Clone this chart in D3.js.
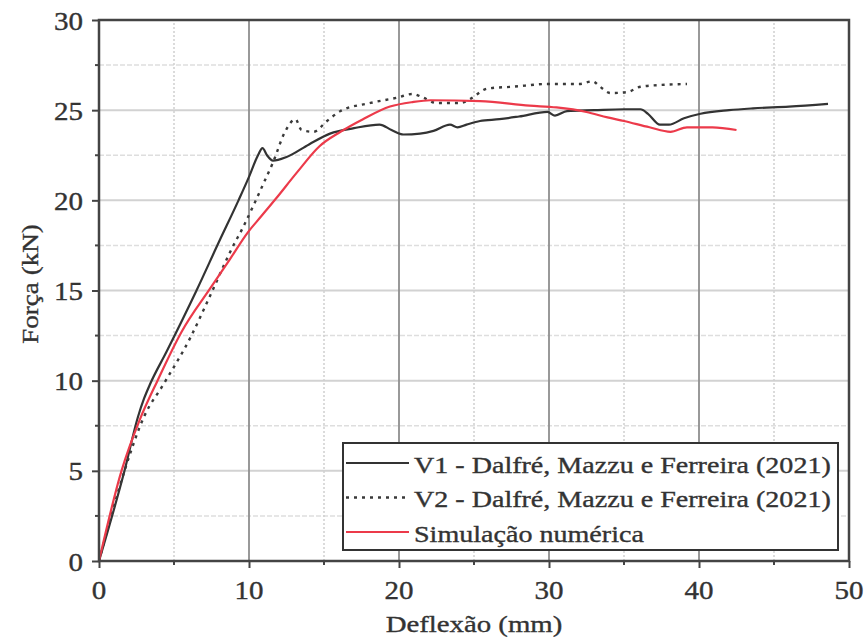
<!DOCTYPE html>
<html>
<head>
<meta charset="utf-8">
<script src="https://cdn.jsdelivr.net/npm/d3@7"></script>
<style>
  body { margin: 0; background: #fff; }
  #wrap { position: relative; width: 865px; height: 641px; }
  svg { display: block; position: absolute; left: 0; top: 0; }
  #labels { position: absolute; left: 0; top: 0; width: 865px; height: 641px; pointer-events: none; }
  .lbl { position: absolute; white-space: nowrap; line-height: 1; color: #333;
         -webkit-text-stroke: 0.35px #333;
         font-family: 'Liberation Serif', 'Times New Roman', serif; transform-origin: 0 0; }
</style>
</head>
<body>
<div id="wrap">
  <svg id="chart"></svg>
  <div id="labels"></div>
</div>
<script>
// deflexão (mm), força (kN)
const v1X = [0, 1.7, 2.6, 3.0, 3.4, 4.5, 6.5, 8, 9.3, 10, 10.6, 10.9, 11.2, 11.6, 12.5, 14, 15.4, 17, 18.7, 19.5, 20.3, 21.4, 22.3, 23.4, 23.9, 24.5, 25.4, 26.7, 28, 29.9, 30.4, 31.2, 33, 35, 36.1, 36.6, 37.4, 38, 39, 40.1, 42, 43.6, 46, 48.6]
const v1Y = [0, 5, 8, 9.0, 9.8, 11.6, 15, 17.7, 20, 21.3, 22.5, 22.9, 22.5, 22.2, 22.4, 23.1, 23.7, 24, 24.2, 23.9, 23.65, 23.7, 23.85, 24.2, 24.05, 24.2, 24.4, 24.5, 24.65, 24.9, 24.7, 24.95, 25.0, 25.05, 25.05, 24.8, 24.2, 24.2, 24.55, 24.8, 25.0, 25.1, 25.2, 25.35]

const v2X = [0, 1.7, 3, 4.3, 6.1, 7.4, 8.9, 9.6, 10.4, 11.0, 11.6, 12.4, 13.1, 13.5, 14.3, 15.2, 16.1, 18.1, 19.9, 20.9, 21.6, 22.5, 24.1, 24.7, 25.9, 27.6, 29.9, 32, 32.9, 33.4, 34.1, 35.2, 36.1, 37.5, 39.2]
const v2Y = [0, 5, 8, 9.8, 12.4, 14.7, 17.4, 18.5, 19.9, 21.0, 22.1, 23.8, 24.5, 23.9, 23.8, 24.4, 24.95, 25.4, 25.7, 25.9, 25.7, 25.4, 25.4, 25.6, 26.2, 26.3, 26.45, 26.45, 26.6, 26.3, 25.95, 26.0, 26.3, 26.4, 26.45]

const simX = [0, 1.5, 2.7, 3.9, 5.5, 7.4, 8.7, 9.9, 10.8, 11.8, 13.2, 14.7, 16.1, 17.6, 19.4, 20.9, 22.1, 25.4, 28.7, 30.5, 32.5, 33.9, 35, 36.7, 38.1, 39.2, 40.9, 42.5]
const simY = [0, 5, 7.8, 10, 12.7, 15.1, 16.7, 18.2, 19.1, 20.1, 21.55, 23, 23.8, 24.5, 25.2, 25.45, 25.55, 25.5, 25.25, 25.15, 24.9, 24.6, 24.4, 24.05, 23.8, 24.05, 24.05, 23.9]

const xTicks = [0, 10, 20, 30, 40, 50]
const yTicks = [0, 5, 10, 15, 20, 25, 30]
const legendLabels = ["V1 - Dalfré, Mazzu e Ferreira (2021)", "V2 - Dalfré, Mazzu e Ferreira (2021)", "Simulação numérica"]

const width = 865
const height = 641
const margin = { top: 20, right: 16, bottom: 80, left: 99 }
const stretch = 1.2  // the original figure is a bit wider than tall

const svg = d3.select('#chart')
    .attr('width', width)
    .attr('height', height)
const labels = d3.select('#labels')

const x = d3.scaleLinear().domain([0, 50]).range([margin.left, width - margin.right])
const y = d3.scaleLinear().domain([0, 30]).range([height - margin.bottom, margin.top])

// html text, baseline sits ~0.84em below the top of the box
function label(text, px, baseline, size, anchor, k) {
    const shift = anchor === 'middle' ? -50 : anchor === 'end' ? -100 : 0
    labels.append('div')
        .attr('class', 'lbl')
        .style('left', px + 'px')
        .style('top', (baseline - size * 0.84) + 'px')
        .style('font-size', size + 'px')
        .style('transform', `scaleX(${k}) translateX(${shift}%)`)
        .text(text)
}

// grid
const grid = svg.append('g')
d3.range(2.5, 30, 2.5).forEach(v => {
    const major = v % 5 === 0
    grid.append('line')
        .attr('x1', x(0)).attr('x2', x(50))
        .attr('y1', y(v)).attr('y2', y(v))
        .attr('stroke', major ? '#d2d2d2' : '#dedede')
        .attr('stroke-width', major ? 2 : 1.5)
        .attr('stroke-dasharray', major ? null : '5,2')
})
d3.range(5, 50, 5).forEach(v => {
    const major = v % 10 === 0
    grid.append('line')
        .attr('x1', x(v)).attr('x2', x(v))
        .attr('y1', y(0)).attr('y2', y(30))
        .attr('stroke', major ? '#8e8e8e' : '#cfcfcf')
        .attr('stroke-width', major ? 1.8 : 1.5)
        .attr('stroke-dasharray', major ? null : '2,2')
})

// curves
const line = d3.line().x(d => x(d[0])).y(d => y(d[1])).curve(d3.curveMonotoneX)
const series = [
    { xs: v1X, ys: v1Y, color: '#333333', dash: null, width: 2.2 },
    { xs: v2X, ys: v2Y, color: '#3a3a3a', dash: '3,5', width: 2.4 },
    { xs: simX, ys: simY, color: '#ec3a4a', dash: null, width: 2.2 }
]
series.forEach(s => {
    svg.append('path')
        .datum(s.xs.map((d, i) => [d, s.ys[i]]))
        .attr('d', line)
        .attr('fill', 'none')
        .attr('stroke', s.color)
        .attr('stroke-width', s.width)
        .attr('stroke-dasharray', s.dash)
})

// axes (tick marks from d3, labels as html below)
const xAxis = d3.axisBottom(x).tickValues(xTicks).tickSize(7).tickFormat('')
const yAxis = d3.axisLeft(y).tickValues(yTicks).tickSize(7).tickFormat('')

svg.append('g')
    .attr('transform', `translate(0,${y(0)})`)
    .call(xAxis)
svg.append('g')
    .attr('transform', `translate(${x(0)},0)`)
    .call(yAxis)

svg.selectAll('.domain').remove()
svg.selectAll('.tick line').attr('stroke', '#444').attr('stroke-width', 2)

xTicks.forEach(v => label(String(v), x(v), 599, 25, 'middle', 1.16))
yTicks.forEach(v => label(String(v), 83, y(v) + 9.5, 25, 'end', 1.16))

// minor ticks
d3.range(5, 50, 10).forEach(v => {
    svg.append('line')
        .attr('x1', x(v)).attr('x2', x(v))
        .attr('y1', y(0)).attr('y2', y(0) + 4)
        .attr('stroke', '#444').attr('stroke-width', 2)
})
d3.range(2.5, 30, 5).forEach(v => {
    svg.append('line')
        .attr('x1', x(0) - 4).attr('x2', x(0))
        .attr('y1', y(v)).attr('y2', y(v))
        .attr('stroke', '#444').attr('stroke-width', 2)
})

// frame
svg.append('rect')
    .attr('x', x(0)).attr('y', y(30))
    .attr('width', x(50) - x(0)).attr('height', y(0) - y(30))
    .attr('fill', 'none')
    .attr('stroke', '#444')
    .attr('stroke-width', 2.5)

// axis titles
label('Deflexão (mm)', 474, 632, 24, 'middle', stretch)

labels.append('div')
    .attr('class', 'lbl')
    .style('left', (38 - 24 * 0.84) + 'px')
    .style('top', '284px')
    .style('font-size', '24px')
    .style('transform', `rotate(-90deg) scaleX(1.13) translateX(-50%)`)
    .text('Força (kN)')

// legend
const legend = svg.append('g')
legend.append('rect')
    .attr('x', 343).attr('y', 443)
    .attr('width', 495).attr('height', 107)
    .attr('fill', '#fff')
    .attr('stroke', '#333')
    .attr('stroke-width', 2)

legendLabels.forEach((text, i) => {
    const ly = 463 + i * 34.5
    const s = series[i]
    legend.append('line')
        .attr('x1', 346).attr('x2', 409)
        .attr('y1', ly).attr('y2', ly)
        .attr('stroke', s.color)
        .attr('stroke-width', s.width)
        .attr('stroke-dasharray', s.dash)
    label(text, 414, ly + 10, 23, 'start', 1.22)
})
</script>
</body>
</html>
